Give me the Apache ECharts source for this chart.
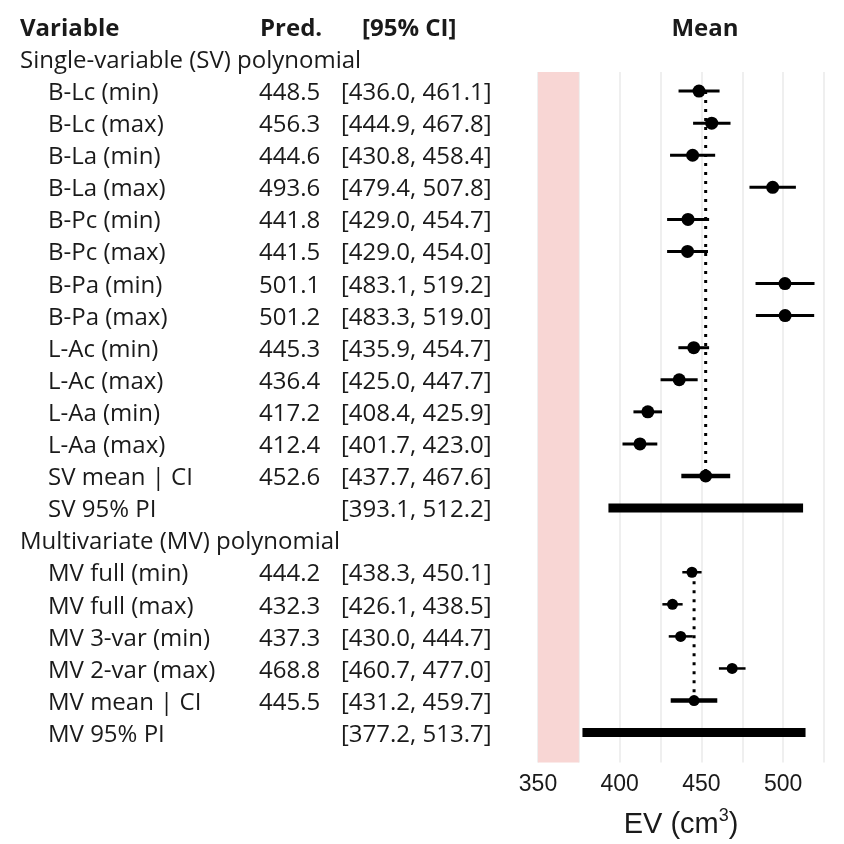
<!DOCTYPE html>
<html>
<head>
<meta charset="utf-8">
<script src="https://cdn.jsdelivr.net/npm/echarts@6/dist/echarts.min.js"></script>
<style>
  html, body { margin: 0; background: #fff; }
  #main { width: 844px; height: 844px; }
</style>
</head>
<body>
<div id="main"></div>
<script>
// single-variable rows
var svNames = ['B-Lc (min)', 'B-Lc (max)', 'B-La (min)', 'B-La (max)', 'B-Pc (min)', 'B-Pc (max)',
  'B-Pa (min)', 'B-Pa (max)', 'L-Ac (min)', 'L-Ac (max)', 'L-Aa (min)', 'L-Aa (max)'];
var svPred = [448.5, 456.3, 444.6, 493.6, 441.8, 441.5, 501.1, 501.2, 445.3, 436.4, 417.2, 412.4];
var svLo = [436.0, 444.9, 430.8, 479.4, 429.0, 429.0, 483.1, 483.3, 435.9, 425.0, 408.4, 401.7];
var svHi = [461.1, 467.8, 458.4, 507.8, 454.7, 454.0, 519.2, 519.0, 454.7, 447.7, 425.9, 423.0];
var svMean = [452.6, 437.7, 467.6];
var svPI = [393.1, 512.2];

// multivariate rows
var mvNames = ['MV full (min)', 'MV full (max)', 'MV 3-var (min)', 'MV 2-var (max)'];
var mvPred = [444.2, 432.3, 437.3, 468.8];
var mvLo = [438.3, 426.1, 430.0, 460.7];
var mvHi = [450.1, 438.5, 444.7, 477.0];
var mvMean = [445.5, 431.2, 459.7];
var mvPI = [377.2, 513.7];

var xTicks = [350, 400, 450, 500];
var refBand = [350, 375];

// layout
var rowH = 32.1, row0 = 59;
var plotTop = 72, plotBottom = 763;
var colName = 20, colItem = 48, colPred = 259, colCI = 341;
var txtFont = 'Open Sans';
var txtSize = 24;
var ink = '#1a1a1a';

function fmt(v) { return v.toFixed(1); }
function ci(lo, hi) { return '[' + fmt(lo) + ', ' + fmt(hi) + ']'; }

// build rows
var rows = [];
rows.push({ kind: 'group', label: 'Single-variable (SV) polynomial' });
svNames.forEach(function (n, i) {
  rows.push({ kind: 'sv', label: n, pred: svPred[i], lo: svLo[i], hi: svHi[i] });
});
rows.push({ kind: 'svmean', label: 'SV mean | CI', pred: svMean[0], lo: svMean[1], hi: svMean[2] });
rows.push({ kind: 'pi', label: 'SV 95% PI', lo: svPI[0], hi: svPI[1] });
rows.push({ kind: 'group', label: 'Multivariate (MV) polynomial' });
mvNames.forEach(function (n, i) {
  rows.push({ kind: 'mv', label: n, pred: mvPred[i], lo: mvLo[i], hi: mvHi[i] });
});
rows.push({ kind: 'mvmean', label: 'MV mean | CI', pred: mvMean[0], lo: mvMean[1], hi: mvMean[2] });
rows.push({ kind: 'pi', label: 'MV 95% PI', lo: mvPI[0], hi: mvPI[1] });

// text table
var textData = [];
function addText(x, r, s, bold, center) {
  var item = { value: [x, r], name: s };
  item.label = { fontWeight: bold ? 'bold' : 'normal' };
  if (center) { item.label.position = 'inside'; item.label.align = 'center'; }
  textData.push(item);
}
addText(colName, -1, 'Variable', true);
addText(colPred + 1, -1, 'Pred.', true);
addText(362, -1, '[95% CI]', true);
addText(705, -1, 'Mean', true, true);
rows.forEach(function (r, i) {
  if (r.kind === 'group') { addText(colName, i, r.label); return; }
  addText(colItem, i, r.label);
  if (r.pred != null) addText(colPred, i, fmt(r.pred));
  addText(colCI, i, ci(r.lo, r.hi));
});

function barsOf(kinds) {
  var out = [];
  rows.forEach(function (r, i) {
    if (kinds.indexOf(r.kind) >= 0) out.push([r.lo, r.hi, i]);
  });
  return out;
}
function ptsOf(kinds) {
  var out = [];
  rows.forEach(function (r, i) {
    if (kinds.indexOf(r.kind) >= 0) out.push([r.pred, i]);
  });
  return out;
}
function rowOf(label) {
  for (var i = 0; i < rows.length; i++) if (rows[i].label === label) return i;
}

function barSeries(data, width) {
  return {
    type: 'custom',
    xAxisIndex: 0, yAxisIndex: 0,
    data: data,
    z: 3,
    renderItem: function (params, api) {
      var a = api.coord([api.value(0), api.value(2)]);
      var b = api.coord([api.value(1), api.value(2)]);
      return {
        type: 'line',
        shape: { x1: a[0], y1: a[1], x2: b[0], y2: b[1] },
        style: { stroke: '#000', lineWidth: width, lineCap: 'butt' }
      };
    }
  };
}

var chart = echarts.init(document.getElementById('main'));
var option = {
  animation: false,
  grid: [
    { left: 538, top: plotTop, width: 286, height: plotBottom - plotTop },
    { left: 0, top: 11, width: 844, height: plotBottom - 11 }
  ],
  xAxis: [
    {
      type: 'value', gridIndex: 0, min: 350, max: 525, interval: 25,
      axisLine: { show: false }, axisTick: { show: false },
      splitLine: { show: true, lineStyle: { color: '#ebebeb', width: 1.6 } },
      axisLabel: {
        margin: 11, color: '#1a1a1a', fontSize: 23, fontFamily: 'Liberation Sans',
        formatter: function (v) { return xTicks.indexOf(v) >= 0 ? String(v) : ''; }
      },
      name: '{n|EV (cm}{s|3}{n|)}', nameLocation: 'middle', nameGap: 45,
      nameTextStyle: {
        rich: {
          n: { fontSize: 29, fontFamily: 'Liberation Sans', color: '#1a1a1a' },
          s: { fontSize: 18, fontFamily: 'Liberation Sans', color: '#1a1a1a', verticalAlign: 'top', padding: [0, 0, 16, 0] }
        }
      }
    },
    { type: 'value', gridIndex: 1, min: 0, max: 844, show: false }
  ],
  yAxis: [
    {
      type: 'value', gridIndex: 0, inverse: true,
      min: (plotTop - row0) / rowH, max: (plotBottom - row0) / rowH, show: false
    },
    {
      type: 'value', gridIndex: 1, inverse: true,
      min: (11 - row0) / rowH, max: (plotBottom - row0) / rowH, show: false
    }
  ],
  series: [
    {
      type: 'line', xAxisIndex: 0, yAxisIndex: 0, data: [], z: 1,
      markArea: {
        silent: true,
        itemStyle: { color: '#f8d6d4' },
        data: [[{ xAxis: refBand[0], yAxis: 'min' }, { xAxis: refBand[1], yAxis: 'max' }]]
      }
    },
    {
      type: 'line', xAxisIndex: 0, yAxisIndex: 0, symbol: 'none', z: 2,
      lineStyle: { color: '#000', width: 3, type: [3, 6] },
      data: [[svMean[0], rowOf(svNames[0])], [svMean[0], rowOf('SV mean | CI')]]
    },
    {
      type: 'line', xAxisIndex: 0, yAxisIndex: 0, symbol: 'none', z: 2,
      lineStyle: { color: '#000', width: 3, type: [3, 6] },
      data: [[mvMean[0], rowOf(mvNames[0])], [mvMean[0], rowOf('MV mean | CI')]]
    },
    barSeries(barsOf(['sv']), 3),
    barSeries(barsOf(['mv']), 2.5),
    barSeries(barsOf(['svmean', 'mvmean']), 4.5),
    barSeries(barsOf(['pi']), 9),
    {
      type: 'scatter', xAxisIndex: 0, yAxisIndex: 0, symbolSize: 13, z: 4,
      itemStyle: { color: '#000', opacity: 1 }, data: ptsOf(['sv', 'svmean'])
    },
    {
      type: 'scatter', xAxisIndex: 0, yAxisIndex: 0, symbolSize: 11, z: 4,
      itemStyle: { color: '#000', opacity: 1 }, data: ptsOf(['mv', 'mvmean'])
    },
    {
      type: 'scatter', xAxisIndex: 1, yAxisIndex: 1, symbolSize: 0, silent: true,
      itemStyle: { opacity: 1 },
      data: textData,
      label: {
        show: true, position: 'right', distance: 0, formatter: '{b}', offset: [0, 2],
        color: ink, opacity: 1, fontFamily: txtFont, fontSize: txtSize
      }
    }
  ]
};
chart.setOption(option);
</script>
</body>
</html>
